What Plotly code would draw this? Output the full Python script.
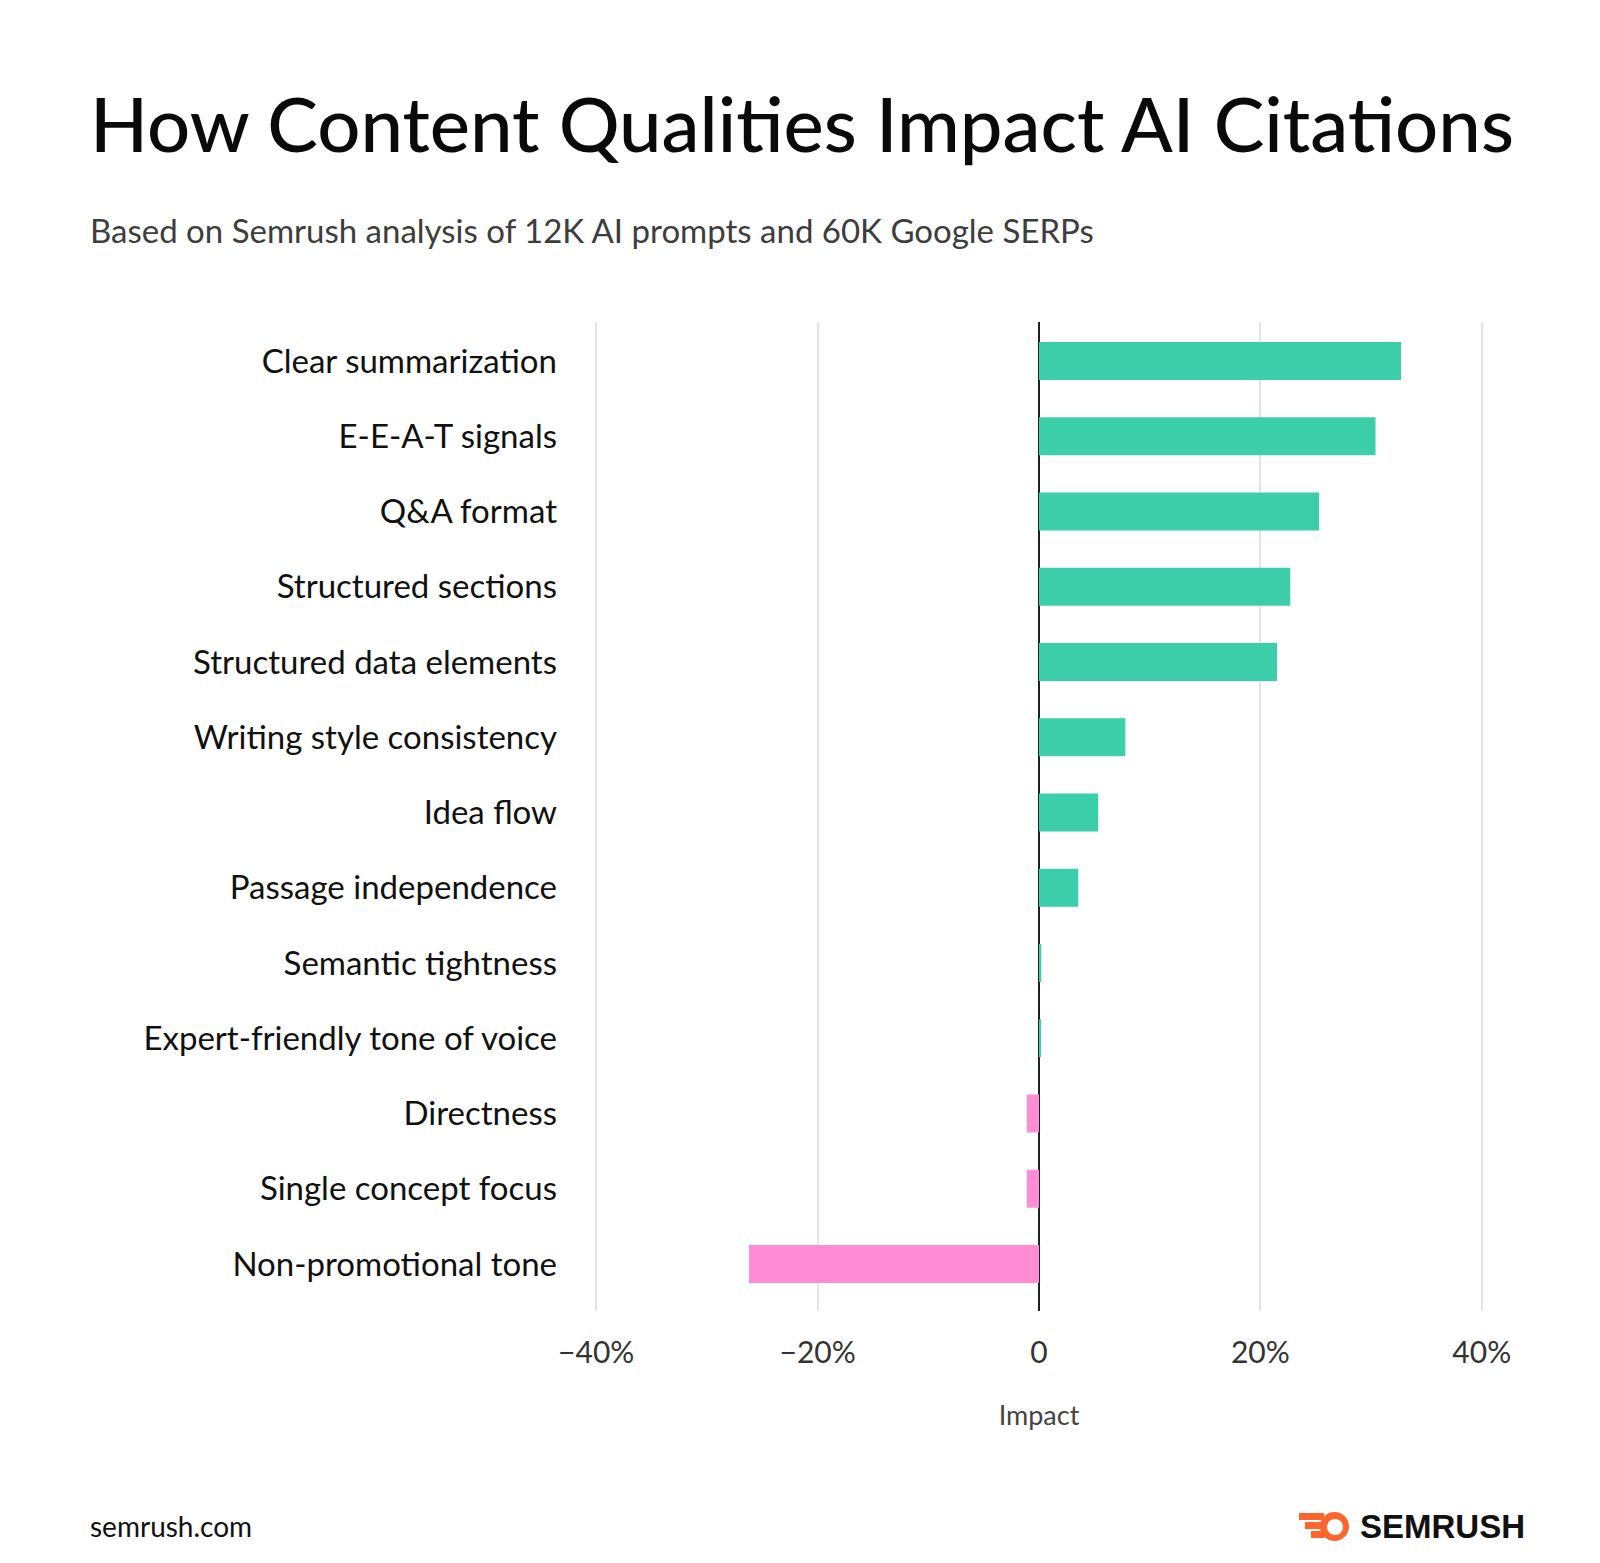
import plotly.graph_objects as go

# data
categories = [
    "Clear summarization",
    "E-E-A-T signals",
    "Q&A format",
    "Structured sections",
    "Structured data elements",
    "Writing style consistency",
    "Idea flow",
    "Passage independence",
    "Semantic tightness",
    "Expert-friendly tone of voice",
    "Directness",
    "Single concept focus",
    "Non-promotional tone",
]
impact = [32.7, 30.4, 25.3, 22.7, 21.5, 7.8, 5.35, 3.55, 0.2, 0.15, -1.1, -1.1, -26.2]
tick_vals = [-40, -20, 0, 20, 40]
tick_text = ["−40%", "−20%", "0", "20%", "40%"]

W, H = 1600, 1563
L, R, T, B = 586, 124, 314, 260

TEAL = "#3ccda9"
PINK = "#ff8dd6"
ORANGE = "#ff642d"


def px(x):
    return (x - L) / (W - L - R)


def py(y):
    return (H - B - y) / (H - T - B)


colors = [TEAL if v >= 0 else PINK for v in impact]

fig = go.Figure(
    go.Bar(
        x=impact,
        y=categories,
        orientation="h",
        marker=dict(color=colors, line=dict(width=0)),
        width=0.505,
        hoverinfo="x+y",
    )
)

fig.update_layout(
    width=W,
    height=H,
    margin=dict(l=L, r=R, t=T, b=B),
    paper_bgcolor="white",
    plot_bgcolor="white",
    showlegend=False,
    font=dict(family="Lato, sans-serif", color="#111111"),
)

fig.update_xaxes(
    range=[-40.2, 40.2],
    tickvals=tick_vals,
    ticktext=tick_text,
    tickfont=dict(size=30, color="#333333"),
    ticklabelstandoff=21,
    showgrid=True,
    gridcolor="#e4e4e4",
    gridwidth=1.5,
    zeroline=True,
    zerolinecolor="#20202c",
    zerolinewidth=2,
    showline=False,
    title=dict(text="Impact", font=dict(size=27, color="#444444"), standoff=38),
    fixedrange=True,
)
fig.update_yaxes(
    range=[12.625, -0.518],
    tickfont=dict(size=33, color="#111111"),
    ticklabelstandoff=36,
    showgrid=False,
    showline=False,
    zeroline=False,
    fixedrange=True,
)

# title, subtitle, footer
fig.add_annotation(
    text="How Content Qualities Impact AI Citations",
    xref="paper", yref="paper", x=px(80), y=py(114),
    xanchor="left", yanchor="middle", showarrow=False,
    font=dict(size=76, color="#0a0a0a", family="Lato, sans-serif", weight=500),
)
fig.add_annotation(
    text="Based on Semrush analysis of 12K AI prompts and 60K Google SERPs",
    xref="paper", yref="paper", x=px(80), y=py(222),
    xanchor="left", yanchor="middle", showarrow=False,
    font=dict(size=33, color="#3d3d3d"),
)
fig.add_annotation(
    text="semrush.com",
    xref="paper", yref="paper", x=px(80), y=py(1518),
    xanchor="left", yanchor="middle", showarrow=False,
    font=dict(size=28, color="#111111"),
)
fig.add_annotation(
    text="<b>SEMRUSH</b>",
    xref="paper", yref="paper", x=px(1519), y=py(1518),
    xanchor="right", yanchor="middle", showarrow=False,
    font=dict(size=33, color="#111111", family="Liberation Sans, Arial, sans-serif"),
)

# little orange logo mark
fig.add_shape(
    type="circle", xref="paper", yref="paper",
    x0=px(1312), x1=px(1341), y0=py(1533), y1=py(1504),
    fillcolor=ORANGE, line=dict(width=0),
)
fig.add_shape(
    type="circle", xref="paper", yref="paper",
    x0=px(1319), x1=px(1335), y0=py(1527), y1=py(1511),
    fillcolor="white", line=dict(width=0),
)
for y0, y1, x0 in [(1505, 1512, 1291), (1514, 1521, 1297), (1523, 1530, 1303)]:
    fig.add_shape(
        type="rect", xref="paper", yref="paper",
        x0=px(x0), x1=px(1316), y0=py(y1), y1=py(y0),
        fillcolor=ORANGE, line=dict(width=0),
    )

fig.write_html("out.html")
